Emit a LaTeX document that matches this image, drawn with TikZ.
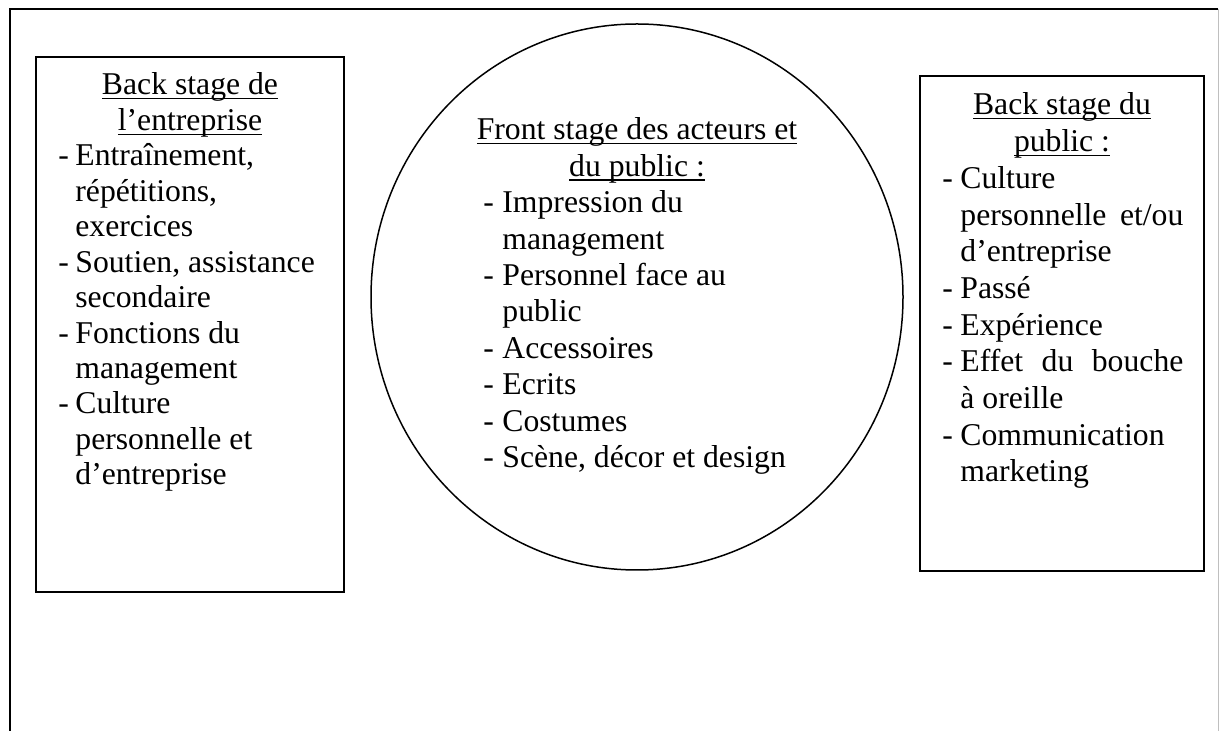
\documentclass[tikz,border=0pt]{standalone}
\usepackage{fontspec}
\setmainfont{Liberation Serif}
\usetikzlibrary{shapes.geometric}
\newcommand\ulbox[1]{\setbox0\hbox{#1}\rlap{\rule[-2.2pt]{\wd0}{0.65pt}}\box0}
\newcommand\itm[2]{\llap{\makebox[#1][l]{-}}#2}
\begin{document}
\begin{tikzpicture}[x=0.5pt,y=-0.5pt,
  txt/.style={anchor=base west,inner sep=0pt,font=\fontsize{15.85pt}{18pt}\selectfont},
  ttl/.style={anchor=base,inner sep=0pt,font=\fontsize{15.85pt}{18pt}\selectfont},
  boxst/.style={draw,line width=1pt,inner sep=0pt,rectangle},
  framest/.style={line width=1pt}]
\useasboundingbox (0,0) rectangle (1221,731);
\fill[white] (0,0) rectangle (1221,731);
% outer frame
\draw[framest] (10,731) -- (10,9) -- (1218,9);
\draw[black!25,line width=0.5pt] (1218,9) -- (1218,731);
% containers
\node[boxst,minimum width=154pt,minimum height=267.5pt] (lbox) at (190,324.5) {};
\node[boxst,minimum width=142pt,minimum height=247.5pt] (rbox) at (1062,323.5) {};
\node[draw,line width=0.75pt,ellipse,inner sep=0pt,minimum width=266pt,minimum height=273pt] (front) at (637,297) {};
% left box text
\node[ttl] (lt1) at (190,95) {\ulbox{Back stage de}};
\node[ttl] (lt2) at (190,130.5) {\ulbox{l’entreprise}};
\node[txt] (l1) at (75,166) {\itm{8.5pt}{Entraînement,}};
\node[txt] (l2) at (75,201.3) {répétitions,};
\node[txt] (l3) at (75,236.8) {exercices};
\node[txt] (l4) at (75,272.2) {\itm{8.5pt}{Soutien, assistance}};
\node[txt] (l5) at (75,307.7) {secondaire};
\node[txt] (l6) at (75,343.1) {\itm{8.5pt}{Fonctions du}};
\node[txt] (l7) at (75,378.6) {management};
\node[txt] (l8) at (75,414) {\itm{8.5pt}{Culture}};
\node[txt] (l9) at (75,449.5) {personnelle et};
\node[txt] (l10) at (75,485) {d’entreprise};
% circle text
\node[ttl] (ct1) at (637,140) {\ulbox{Front stage des acteurs et}};
\node[ttl] (ct2) at (637,176.4) {\ulbox{du public :}};
\node[txt] (c1) at (502,212.8) {\itm{9.5pt}{Impression du}};
\node[txt] (c2) at (502,249.2) {management};
\node[txt] (c3) at (502,285.6) {\itm{9.5pt}{Personnel face au}};
\node[txt] (c4) at (502,322) {public};
\node[txt] (c5) at (502,358.4) {\itm{9.5pt}{Accessoires}};
\node[txt] (c6) at (502,394.8) {\itm{9.5pt}{Ecrits}};
\node[txt] (c7) at (502,431.2) {\itm{9.5pt}{Costumes}};
\node[txt] (c8) at (502,467.6) {\itm{9.5pt}{Scène, décor et design}};
% right box text
\node[ttl] (rt1) at (1062,115) {\ulbox{Back stage du}};
\node[ttl] (rt2) at (1062,151.7) {\ulbox{public :}};
\node[txt] (r1) at (960,188.4) {\itm{9pt}{Culture}};
\node[txt] (r2) at (960,225.1) {\makebox[111.5pt][s]{personnelle et/ou}};
\node[txt] (r3) at (960,261.8) {d’entreprise};
\node[txt] (r4) at (960,298.5) {\itm{9pt}{Passé}};
\node[txt] (r5) at (960,335.2) {\itm{9pt}{Expérience}};
\node[txt] (r6) at (960,371.9) {\itm{9pt}{\makebox[111.5pt][s]{Effet du bouche}}};
\node[txt] (r7) at (960,408.6) {à oreille};
\node[txt] (r8) at (960,445.3) {\itm{9pt}{Communication}};
\node[txt] (r9) at (960,482) {marketing};
\end{tikzpicture}
\end{document}
